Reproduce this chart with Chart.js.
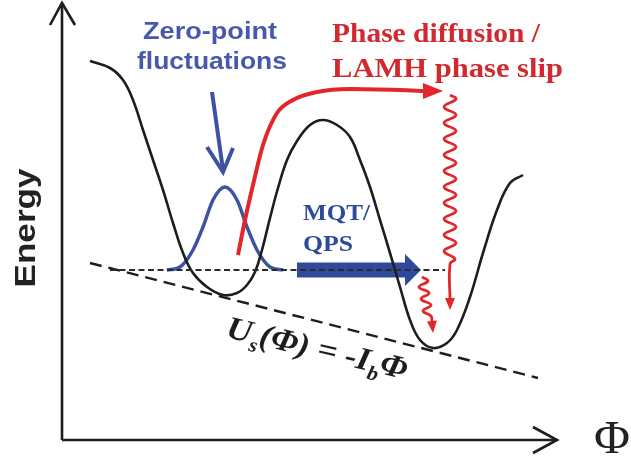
<!DOCTYPE html>
<html>
<head>
<meta charset="utf-8">
<script src="https://cdn.jsdelivr.net/npm/chart.js@4"></script>
<style>
  html, body { margin: 0; padding: 0; background: #fff; }
  canvas { display: block; }
</style>
</head>
<body>
<canvas id="diagram" width="631" height="461"></canvas>
<script>
// Washboard potential sketch: flux Φ along x, energy along y, origin at the axis corner.
// Every point is [Φ, E].
const potential = [
  [28, 379], [48, 372], [61, 360], [71, 340], [81, 310], [91, 280], [101, 250],
  [111, 217], [121, 187], [131, 167], [145, 153], [161, 145], [175, 147], [185, 155],
  [193, 168], [200, 190], [208, 222], [216, 252], [225, 280], [235, 299], [248, 315],
  [261, 320], [275, 315], [288, 303], [298, 280], [308, 253], [318, 220], [328, 187],
  [338, 153], [348, 120], [358, 100], [371, 92], [385, 97], [395, 110], [408, 143],
  [421, 187], [435, 230], [448, 257], [461, 265]
];
// ground-state wave packet sitting in the left well
const zeroPoint = [
  [105, 170], [118, 173], [131, 190], [141, 213], [151, 240], [163, 253],
  [175, 240], [185, 213], [195, 190], [208, 173], [221, 170]
];
const tilt = [[28, 177], [476, 62]];          // U_s(Φ) = -I_b Φ
const groundLevel = [[48, 170], [383, 170]];
// escape over the barrier
const escapePath = [
  [176, 185], [183, 220], [191, 255], [201, 295], [215, 327], [231, 340],
  [255, 348], [288, 351], [338, 350], [363, 349]
];
// relaxation into the next well
const relaxLong = [
  [388, 345], [394, 341], [382, 333], [394, 325], [382, 317], [394, 309], [382, 301],
  [394, 293], [382, 285], [394, 277], [382, 269], [394, 261], [382, 253], [394, 245],
  [382, 237], [394, 229], [382, 221], [394, 213], [382, 205], [394, 197], [382, 189],
  [393, 181], [388, 176], [388, 140]
];
const relaxShort = [
  [360, 163], [366, 159], [357, 153], [367, 147], [359, 141], [369, 135],
  [361, 129], [369, 124], [370, 118]
];
const tunnelShaft = [[235, 170], [345, 170]];
const zpfArrow = [[150, 348], [161, 270]];
const zpfHead = [[145, 293], [161, 268], [171, 292]];
const yAxis = [[0, 0], [0, 437]];
const xAxis = [[0, 0], [495, 0]];
const yHead = [[-12, 415], [0, 437], [13, 415]];
const xHead = [[471, 13], [495, 0], [471, -13]];

// arrow tips: [from, to]
const escapeTip = [[363, 349], [381, 349]];
const relaxLongTip = [[388, 140], [388, 130]];
const relaxShortTip = [[370, 118], [371, 107]];
const tunnelTip = [[345, 170], [359, 170]];

const labels = {
  zpf: ['Zero-point', 'fluctuations'],
  escape: ['Phase diffusion /', 'LAMH phase slip'],
  tunnel: ['MQT/', 'QPS'],
  yTitle: 'Energy',
  xTitle: 'Φ'
};

const INK = '#1d1d1d';
const BLUE = '#3e51a3';
const BLUE_TEXT = '#4859a9';
const BLUE_DARK = '#2f4a9b';
const RED = '#e3262b';
const RED_TEXT = '#d2282f';

function line(points, color, width, extra) {
  return Object.assign({
    data: points.map(([x, y]) => ({ x, y })),
    showLine: true,
    borderColor: color,
    borderWidth: width,
    pointRadius: 0,
    pointHoverRadius: 0,
    fill: false,
    clip: false
  }, extra || {});
}

const layers = [
  line(tunnelShaft, BLUE_DARK, 15, { borderCapStyle: 'butt' }),
  line(zeroPoint, BLUE, 3.5, { cubicInterpolationMode: 'monotone' }),
  line(potential, INK, 2.6, { tension: 0.4 }),
  line(tilt, INK, 2.4, { borderDash: [12, 7] }),
  line(groundLevel, '#2a2a2a', 2, { borderDash: [6, 3.5] }),
  line(escapePath, RED, 4, { cubicInterpolationMode: 'monotone' }),
  line(relaxLong, RED, 2.8, { tension: 0.45 }),
  line(relaxShort, RED, 2.8, { tension: 0.45 }),
  line(zpfArrow, BLUE, 4),
  line(zpfHead, BLUE, 4, { borderJoinStyle: 'miter' }),
  line(yAxis, INK, 2.6),
  line(xAxis, INK, 2.6),
  line(yHead, INK, 2.6),
  line(xHead, INK, 2.6)
];
layers.forEach((d, i) => { d.order = -i; });

function toPx(chart, [phi, e]) {
  return [chart.scales.x.getPixelForValue(phi), chart.scales.y.getPixelForValue(e)];
}

function filledHead(chart, [from, to], color, len, half) {
  const ctx = chart.ctx;
  const [x0, y0] = toPx(chart, from);
  const [x1, y1] = toPx(chart, to);
  const a = Math.atan2(y1 - y0, x1 - x0);
  ctx.save();
  ctx.translate(x1, y1);
  ctx.rotate(a);
  ctx.fillStyle = color;
  ctx.beginPath();
  ctx.moveTo(0, 0);
  ctx.lineTo(-len, -half);
  ctx.lineTo(-len, half);
  ctx.closePath();
  ctx.fill();
  ctx.restore();
}

// draw text squeezed/stretched to a given width
function fitText(ctx, text, x, y, font, width, align) {
  ctx.save();
  ctx.font = font;
  const w = ctx.measureText(text).width;
  const sx = width / w;
  ctx.translate(x, y);
  ctx.scale(sx, 1);
  ctx.textBaseline = 'middle';
  ctx.textAlign = 'left';
  const start = align === 'center' ? -w / 2 : 0;
  ctx.fillText(text, start, 0);
  ctx.restore();
}

const overlay = {
  id: 'overlay',
  beforeDatasetsDraw(chart) {
    filledHead(chart, tunnelTip, BLUE_DARK, 16, 16);
  },
  afterDatasetsDraw(chart) {
    const ctx = chart.ctx;
    filledHead(chart, escapeTip, RED, 20, 8);
    filledHead(chart, relaxLongTip, RED, 12, 5);
    filledHead(chart, relaxShortTip, RED, 12, 5);

    const sans = '"Liberation Sans", Arial, sans-serif';
    const serif = '"Liberation Serif", "Times New Roman", serif';

    ctx.fillStyle = BLUE_TEXT;
    let p = toPx(chart, [148, 408]);
    fitText(ctx, labels.zpf[0], p[0], p[1], 'bold 24px ' + sans, 134, 'center');
    p = toPx(chart, [150, 378]);
    fitText(ctx, labels.zpf[1], p[0], p[1], 'bold 24px ' + sans, 150, 'center');

    ctx.fillStyle = RED_TEXT;
    p = toPx(chart, [270, 405]);
    fitText(ctx, labels.escape[0], p[0], p[1], 'bold 27px ' + serif, 208, 'left');
    p = toPx(chart, [270, 370]);
    fitText(ctx, labels.escape[1], p[0], p[1], 'bold 27px ' + serif, 231, 'left');

    ctx.fillStyle = BLUE_DARK;
    p = toPx(chart, [241, 226]);
    fitText(ctx, labels.tunnel[0], p[0], p[1], 'bold 24px ' + serif, 67, 'left');
    p = toPx(chart, [241, 195]);
    fitText(ctx, labels.tunnel[1], p[0], p[1], 'bold 24px ' + serif, 50, 'left');

    // axis titles
    ctx.fillStyle = '#222';
    p = toPx(chart, [-35, 212]);
    ctx.save();
    ctx.translate(p[0], p[1]);
    ctx.rotate(-Math.PI / 2);
    fitText(ctx, labels.yTitle, 0, 0, 'bold 30px ' + sans, 119, 'center');
    ctx.restore();
    p = toPx(chart, [550, 0]);
    fitText(ctx, labels.xTitle, p[0], p[1] + 1, '46px ' + serif, 36, 'center');

    // tilt label, laid along the dashed line
    const [tx0, ty0] = toPx(chart, tilt[0]);
    const [tx1, ty1] = toPx(chart, tilt[1]);
    const angle = Math.atan2(ty1 - ty0, tx1 - tx0) - 0.02;
    const anchor = toPx(chart, [163, 103]);
    const main = 'italic bold 32px ' + serif;
    const sub = 'italic bold 20px ' + serif;
    const parts = [
      ['U', main, 0], ['s', sub, 8], ['(Φ) = -', main, 0],
      ['I', main, 0], ['b', sub, 8], ['Φ', main, 0]
    ];
    let total = 0;
    parts.forEach(([t, f]) => { ctx.font = f; total += ctx.measureText(t).width; });
    ctx.save();
    ctx.translate(anchor[0], anchor[1]);
    ctx.rotate(angle);
    ctx.scale(185 / total, 1);
    ctx.fillStyle = INK;
    ctx.textBaseline = 'alphabetic';
    let cx = 0;
    parts.forEach(([t, f, dy]) => {
      ctx.font = f;
      ctx.fillText(t, cx, dy);
      cx += ctx.measureText(t).width;
    });
    ctx.restore();
  }
};

new Chart(document.getElementById('diagram'), {
  type: 'scatter',
  data: { datasets: layers },
  options: {
    responsive: false,
    animation: false,
    events: [],
    layout: { padding: 0 },
    plugins: { legend: { display: false }, tooltip: { enabled: false } },
    scales: {
      x: { type: 'linear', min: -62, max: 569, display: false },
      y: { type: 'linear', min: -21, max: 440, display: false }
    }
  },
  plugins: [overlay]
});
</script>
</body>
</html>
